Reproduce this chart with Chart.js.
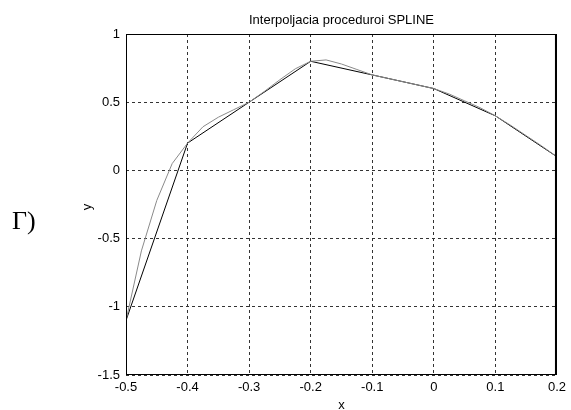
<!DOCTYPE html>
<html>
<head>
<meta charset="utf-8">
<script src="https://cdn.jsdelivr.net/npm/chart.js@4"></script>
<style>
  html, body { margin: 0; padding: 0; background: #fff; }
  #wrap { width: 571px; height: 410px; }
</style>
</head>
<body>
<div id="wrap"><canvas id="chart" width="571" height="410"></canvas></div>
<script>
// interpolation nodes (black polyline)
const nodeX = [-0.5, -0.4, -0.3, -0.2, -0.1, 0, 0.1, 0.2];
const nodeY = [-1.1, 0.2, 0.5, 0.8, 0.7, 0.6, 0.4, 0.1];

// spline curve (grey)
const splineX = [-0.5, -0.475, -0.45, -0.425, -0.4, -0.375, -0.35, -0.325, -0.3,
  -0.275, -0.25, -0.225, -0.2, -0.175, -0.15, -0.125, -0.1, -0.075, -0.05, -0.025,
  0, 0.025, 0.05, 0.075, 0.1, 0.125, 0.15, 0.175, 0.2];
const splineY = [-1.1, -0.59, -0.22, 0.05, 0.2, 0.32, 0.39, 0.445, 0.5,
  0.58, 0.665, 0.745, 0.8, 0.81, 0.78, 0.74, 0.7, 0.675, 0.65, 0.625,
  0.6, 0.56, 0.51, 0.46, 0.4, 0.33, 0.255, 0.18, 0.1];

const xTicks = [-0.5, -0.4, -0.3, -0.2, -0.1, 0, 0.1, 0.2];
const yTicks = [-1.5, -1, -0.5, 0, 0.5, 1];

const titleText = 'Interpoljacia proceduroi SPLINE';
const xLabel = 'x';
const yLabel = 'y';
const panelLabel = 'Г)';

const FONT = '"Liberation Sans", Arial, sans-serif';
const toPts = (xs, ys) => xs.map((x, i) => ({ x: x, y: ys[i] }));

const decor = {
  id: 'decor',
  afterDraw(chart) {
    const { ctx, chartArea: a } = chart;
    ctx.save();
    // box round the axes
    ctx.strokeStyle = '#000';
    ctx.lineWidth = 1;
    ctx.setLineDash([]);
    ctx.strokeRect(a.left + 0.5, a.top + 0.5, a.right - a.left - 1, a.bottom - a.top - 1);
    ctx.lineWidth = 2;
    ctx.beginPath();
    ctx.moveTo(a.right - 1, a.top);
    ctx.lineTo(a.right - 1, a.bottom);
    ctx.stroke();
    // texts
    ctx.fillStyle = '#000';
    ctx.font = '13px ' + FONT;
    ctx.textAlign = 'center';
    ctx.textBaseline = 'alphabetic';
    const cx = (a.left + a.right) / 2;
    ctx.fillText(titleText, cx, 24);
    ctx.fillText(xLabel, cx, 409);
    ctx.save();
    ctx.translate(87, 207);
    ctx.rotate(-Math.PI / 2);
    ctx.textBaseline = 'middle';
    ctx.fillText(yLabel, 0, 0);
    ctx.restore();
    ctx.font = '26px "Liberation Serif", "Times New Roman", serif';
    ctx.textAlign = 'left';
    ctx.fillText(panelLabel, 12, 229);
    ctx.restore();
  }
};

new Chart(document.getElementById('chart'), {
  type: 'scatter',
  data: {
    datasets: [
      {
        label: 'spline',
        data: toPts(splineX, splineY),
        showLine: true,
        borderColor: '#8a8a8a',
        borderWidth: 1,
        pointRadius: 0,
        tension: 0
      },
      {
        label: 'nodes',
        data: toPts(nodeX, nodeY),
        showLine: true,
        borderColor: '#000',
        borderWidth: 1,
        pointRadius: 0,
        tension: 0
      }
    ]
  },
  options: {
    responsive: false,
    animation: false,
    layout: { padding: { top: 34, right: 10, bottom: 0, left: 0 } },
    plugins: {
      legend: { display: false },
      tooltip: { enabled: false },
      title: { display: false }
    },
    scales: {
      x: {
        type: 'linear',
        min: -0.5,
        max: 0.2,
        afterBuildTicks: (s) => { s.ticks = xTicks.map(v => ({ value: v })); },
        afterFit: (s) => { s.height = 35; },
        ticks: {
          color: '#000',
          font: { family: FONT, size: 13 },
          padding: 5,
          maxRotation: 0,
          callback: (v) => String(Math.round(v * 10) / 10)
        },
        grid: { color: '#333', lineWidth: 1, drawTicks: false, tickLength: 0 },
        border: { display: false, dash: [3, 3] }
      },
      y: {
        type: 'linear',
        min: -1.5,
        max: 1,
        afterBuildTicks: (s) => { s.ticks = yTicks.map(v => ({ value: v })); },
        afterFit: (s) => { s.width = 126; },
        ticks: {
          color: '#000',
          font: { family: FONT, size: 13 },
          padding: 6,
          callback: (v) => String(v)
        },
        grid: { color: '#333', lineWidth: 1, drawTicks: false, tickLength: 0 },
        border: { display: false, dash: [3, 3] }
      }
    }
  },
  plugins: [decor]
});
</script>
</body>
</html>
